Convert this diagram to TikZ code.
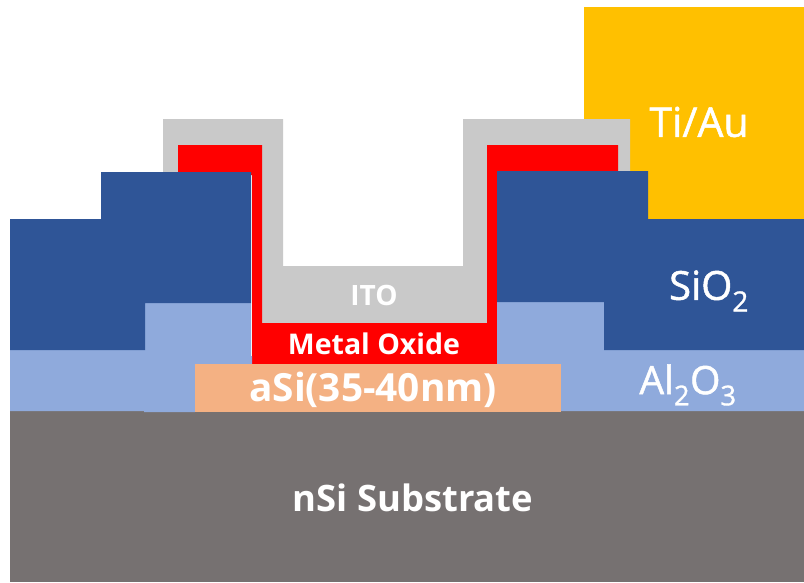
\documentclass[tikz,border=0pt]{standalone}
\usepackage{fontspec}
\setmainfont{Open Sans}
\newfontfamily\medfont[FakeBold=1.2]{Open Sans}
\definecolor{subst}{HTML}{767171}
\definecolor{alox}{HTML}{8FAADC}
\definecolor{siox}{HTML}{2F5597}
\definecolor{asi}{HTML}{F4B183}
\definecolor{mox}{HTML}{FF0000}
\definecolor{ito}{HTML}{C9C9C9}
\definecolor{tiau}{HTML}{FFC000}
\tikzset{
  lab/.style={text=white,inner sep=0pt,anchor=center},
}
\begin{document}
\begin{tikzpicture}[x=1pt,y=-1pt]
\useasboundingbox (0,0) rectangle (804,582);
\fill[white] (0,0) rectangle (804,582);
% Ti/Au
\fill[tiau] (584,7) rectangle (804,219);
% ITO
\fill[ito] (163,119) -- (283,119) -- (283,266) -- (463,266) -- (463,119) -- (630,119) -- (630,175) -- (497,175) -- (497,330) -- (252,330) -- (252,175) -- (163,175) -- cycle;
% Metal oxide
\fill[mox] (178,145) -- (262,145) -- (262,323) -- (487,323) -- (487,145) -- (618,145) -- (618,175) -- (497,175) -- (497,364) -- (252,364) -- (252,175) -- (178,175) -- cycle;
% Substrate
\fill[subst] (10,411) rectangle (804,582);
% Al2O3
\fill[alox] (10,350) -- (145,350) -- (145,303) -- (251,303) -- (251,356) -- (252,356) -- (252,364) -- (195,364) -- (195,412) -- (144,412) -- (144,411) -- (10,411) -- cycle;
\fill[alox] (497,302) -- (604,302) -- (604,350) -- (804,350) -- (804,411) -- (561,411) -- (561,364) -- (497,364) -- cycle;
% SiO2
\fill[siox] (10,219) -- (101,219) -- (101,172) -- (251,172) -- (251,303) -- (145,303) -- (145,350) -- (10,350) -- cycle;
\fill[siox] (497,171) -- (648,171) -- (648,219) -- (804,219) -- (804,350) -- (604,350) -- (604,302) -- (497,302) -- cycle;
% aSi
\fill[asi] (195,364) rectangle (561,412);
% Labels
\node[lab,font=\medfont\fontsize{41}{41}\selectfont] (tiaulab) at (699,122) {Ti/Au};
\node[lab,font=\medfont\fontsize{40}{40}\selectfont] (sioxlab) at (709,291) {SiO\textsubscript{2}};
\node[lab,font=\medfont\fontsize{39}{39}\selectfont] (aloxlab) at (688,385) {Al\textsubscript{2}O\textsubscript{3}};
\node[lab,font=\bfseries\fontsize{28}{28}\selectfont] (itolab) at (374,295) {ITO};
\node[lab,font=\bfseries\fontsize{28.5}{28.5}\selectfont] (moxlab) at (374,344) {Metal Oxide};
\node[lab,font=\bfseries\fontsize{38.8}{38.8}\selectfont] (asilab) at (373,390) {aSi(35-40nm)};
\node[lab,font=\bfseries\fontsize{36.4}{36.4}\selectfont] (sublab) at (413,498) {nSi Substrate};
\end{tikzpicture}
\end{document}
